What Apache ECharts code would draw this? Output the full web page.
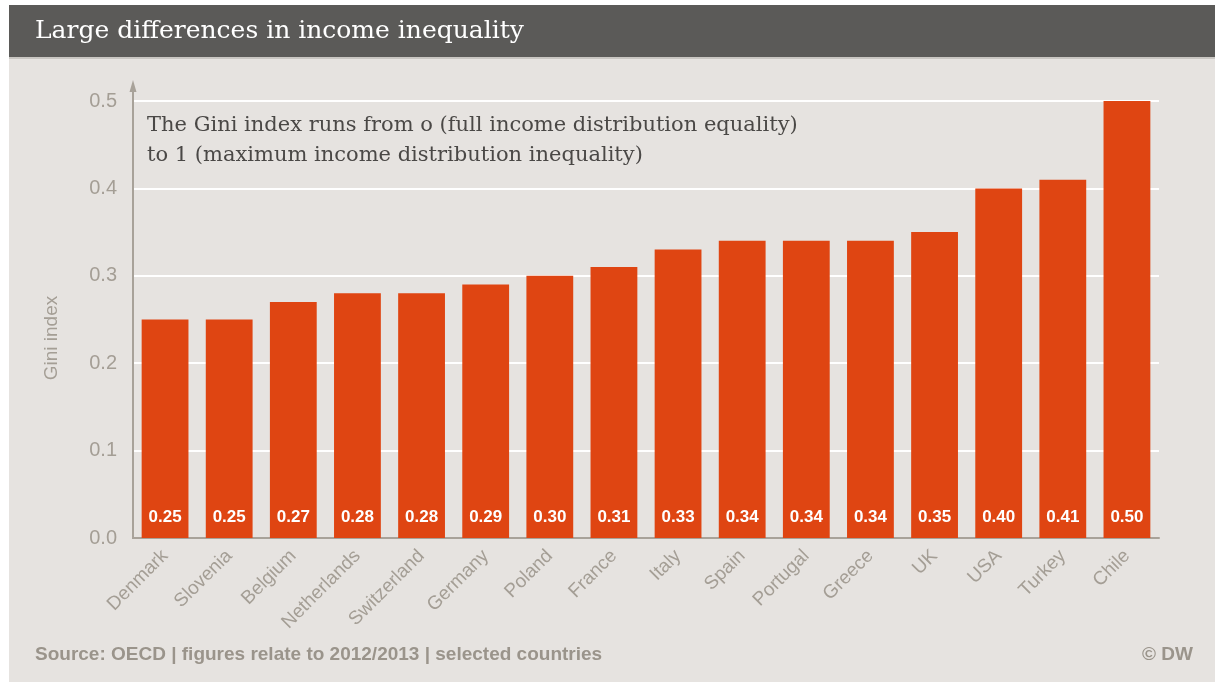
<!DOCTYPE html>
<html>
<head>
<meta charset="utf-8">
<script src="https://cdn.jsdelivr.net/npm/echarts@6/dist/echarts.min.js"></script>
<style>
html,body{margin:0;padding:0;background:#ffffff;}
#c{width:1215px;height:682px;}
</style>
</head>
<body>
<div id="c"></div>
<script>
const countries = ['Denmark','Slovenia','Belgium','Netherlands','Switzerland','Germany','Poland','France','Italy','Spain','Portugal','Greece','UK','USA','Turkey','Chile'];
const giniValues = [0.25,0.25,0.27,0.28,0.28,0.29,0.30,0.31,0.33,0.34,0.34,0.34,0.35,0.40,0.41,0.50];
const titleText = 'Large differences in income inequality';
const noteLines = ['The Gini index runs from o (full income distribution equality)', 'to 1 (maximum income distribution inequality)'];
const sourceText = 'Source: OECD | figures relate to 2012/2013 | selected countries';
const creditText = '© DW';
const yAxisName = 'Gini index';

const axisGray = '#a8a299';
const labelGray = '#a49e95';
const sans = '"Liberation Sans", Arial, sans-serif';
const chart = echarts.init(document.getElementById('c'), null, {renderer:'canvas'});
const option = {
  backgroundColor: '#ffffff',
  animation: false,
  grid: {left: 133, right: 56, top: 101, bottom: 144, containLabel: false},
  xAxis: {
    type: 'category',
    data: countries,
    axisLine: {show: true, lineStyle: {color: axisGray, width: 2}},
    axisTick: {show: false},
    axisLabel: {rotate: 45, color: labelGray, fontFamily: sans, fontSize: 19, margin: 15, interval: 0}
  },
  yAxis: {
    type: 'value',
    min: 0, max: 0.5, interval: 0.1,
    axisLine: {show: false},
    axisTick: {show: false},
    splitLine: {show: true, lineStyle: {color: '#ffffff', width: 2}},
    axisLabel: {color: labelGray, fontFamily: sans, fontSize: 20, margin: 16, formatter: v => v.toFixed(1)}
  },
  series: [{
    type: 'bar',
    data: giniValues,
    barCategoryGap: '27%',
    itemStyle: {color: '#df4512'},
    label: {
      show: true,
      position: 'insideBottom',
      distance: 12,
      color: '#ffffff',
      fontWeight: 'bold',
      fontFamily: sans,
      fontSize: 17,
      formatter: p => p.value.toFixed(2)
    }
  }]
};
chart.setOption(option);

const p0 = chart.convertToPixel({gridIndex: 0}, [0, 0]);
const axX = 133;
chart.setOption({
  graphic: [
    {type: 'rect', z: -10, silent: true, shape: {x: 9, y: 5, width: 1206, height: 677}, style: {fill: '#e6e3e0'}},
    {type: 'rect', z: 100, silent: true, shape: {x: 9, y: 5, width: 1206, height: 52}, style: {fill: '#5b5a58'}},
    {type: 'rect', z: 100, silent: true, shape: {x: 9, y: 57, width: 1206, height: 2}, style: {fill: '#c9c6c2'}},
    {type: 'text', z: 101, silent: true, left: 35, top: 19, style: {text: titleText, fill: '#ffffff', font: '25px "DejaVu Serif", "Liberation Serif", serif'}},
    {type: 'line', z: 50, silent: true, shape: {x1: axX, y1: p0[1] + 1, x2: axX, y2: 84}, style: {stroke: axisGray, lineWidth: 2}},
    {type: 'polygon', z: 50, silent: true, shape: {points: [[axX - 3.5, 92], [axX + 3.5, 92], [axX, 80]]}, style: {fill: axisGray}},
    {type: 'text', z: 60, silent: true, x: 52, y: 338, rotation: Math.PI / 2, style: {text: yAxisName, fill: labelGray, font: '19px "Liberation Sans", Arial, sans-serif', align: 'center', verticalAlign: 'middle'}},
    {type: 'text', z: 60, silent: true, left: 147, top: 115, style: {text: noteLines[0], fill: '#4a4846', font: '21px "DejaVu Serif", "Liberation Serif", serif'}},
    {type: 'text', z: 60, silent: true, left: 147, top: 145, style: {text: noteLines[1], fill: '#4a4846', font: '21px "DejaVu Serif", "Liberation Serif", serif'}},
    {type: 'text', z: 60, silent: true, left: 35, top: 645, style: {text: sourceText, fill: '#9a948b', font: 'bold 19px "Liberation Sans", Arial, sans-serif'}},
    {type: 'text', z: 60, silent: true, right: 22, top: 645, style: {text: creditText, fill: '#9a948b', font: 'bold 19px "Liberation Sans", Arial, sans-serif'}}
  ]
});
</script>
</body>
</html>
